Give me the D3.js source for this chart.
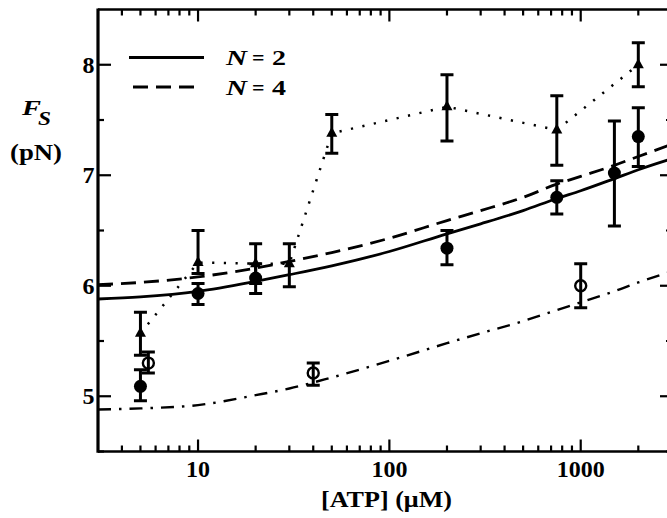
<!DOCTYPE html>
<html>
<head>
<meta charset="utf-8">
<script src="https://cdn.jsdelivr.net/npm/d3@7"></script>
<style>
  html, body { margin: 0; padding: 0; background: #fff; }
  svg { display: block; }
  text { font-family: "Liberation Serif", "Times New Roman", serif; fill: #000; }
</style>
</head>
<body>
<svg id="chart" width="667" height="518"></svg>
<script>
// Stall force versus ATP concentration
const xTickValues = [10, 100, 1000];
const yTickValues = [5, 6, 7, 8];
const yMinorTickValues = [4.5, 5.5, 6.5, 7.5];

// filled circles
const atpFilled = [5, 10, 20, 200, 750, 1500, 2000];
const fsFilled = [5.09, 5.93, 6.07, 6.34, 6.80, 7.02, 7.35];
const fsFilledLow = [4.96, 5.83, 5.93, 6.19, 6.65, 6.54, 7.08];
const fsFilledHigh = [5.24, 6.02, 6.20, 6.50, 6.95, 7.49, 7.61];

// filled triangles (joined by a dotted line)
const atpTri = [5, 10, 20, 30, 50, 200, 750, 2000];
const fsTri = [5.57, 6.21, 6.20, 6.20, 7.38, 7.62, 7.41, 8.00];
const fsTriLow = [5.37, 6.11, 6.02, 5.99, 7.20, 7.31, 7.09, 7.80];
const fsTriHigh = [5.76, 6.50, 6.38, 6.38, 7.55, 7.91, 7.72, 8.20];

// open circles
const atpOpen = [5.5, 40, 1000];
const fsOpen = [5.30, 5.21, 6.00];
const fsOpenLow = [5.21, 5.10, 5.80];
const fsOpenHigh = [5.40, 5.30, 6.20];

// model curves
const curveAtp = [3, 5, 10, 20, 30, 50, 100, 200, 300, 500, 750, 1000, 1500, 2000, 3000];
const fitN2 = [5.88, 5.90, 5.95, 6.04, 6.10, 6.18, 6.31, 6.47, 6.56, 6.68, 6.79, 6.86, 6.97, 7.05, 7.15];
const fitN4 = [6.01, 6.03, 6.08, 6.16, 6.22, 6.30, 6.43, 6.59, 6.68, 6.80, 6.92, 6.99, 7.09, 7.17, 7.28];
const fitOpen = [4.88, 4.89, 4.92, 5.01, 5.07, 5.17, 5.32, 5.48, 5.57, 5.68, 5.78, 5.85, 5.95, 6.03, 6.13];

const legendLabels = ["2", "4"];

const svg = d3.select("#chart");
const plotLeft = 98, plotRight = 672, plotTop = 9.5, plotBottom = 451.5;

const x = d3.scaleLog().domain([3, 3000]).range([plotLeft, plotRight]);
const y = d3.scaleLinear().domain([4.5, 8.5]).range([plotBottom, plotTop]);

const defs = svg.append("defs");
defs.append("clipPath").attr("id", "plotClip")
  .append("rect").attr("x", plotLeft).attr("y", plotTop)
  .attr("width", plotRight - plotLeft).attr("height", plotBottom - plotTop);

const plot = svg.append("g").attr("clip-path", "url(#plotClip)");

// curves
const lineGen = d3.line().x(d => x(d[0])).y(d => y(d[1])).curve(d3.curveMonotoneX);
function drawCurve(vals, dash, width) {
  plot.append("path")
    .datum(curveAtp.map((a, i) => [a, vals[i]]))
    .attr("d", lineGen)
    .attr("fill", "none")
    .attr("stroke", "#000")
    .attr("stroke-width", width)
    .attr("stroke-dasharray", dash);
}
drawCurve(fitN2, null, 2.8);
drawCurve(fitN4, "15 8", 2.8);
drawCurve(fitOpen, "13 8 2.5 8", 2.4);

// dotted connection of triangles
plot.append("path")
  .datum(atpTri.map((a, i) => [a, fsTri[i]]))
  .attr("d", d3.line().x(d => x(d[0])).y(d => y(d[1])))
  .attr("fill", "none")
  .attr("stroke", "#000")
  .attr("stroke-width", 2.5)
  .attr("stroke-dasharray", "2.2 9.5");

// error bars
function drawErrors(xs, lo, hi) {
  const g = plot.append("g").attr("stroke", "#000").attr("stroke-width", 3);
  xs.forEach((a, i) => {
    const px = x(a);
    g.append("line").attr("x1", px).attr("x2", px).attr("y1", y(lo[i])).attr("y2", y(hi[i]));
    [lo[i], hi[i]].forEach(v => {
      g.append("line").attr("x1", px - 6.5).attr("x2", px + 6.5).attr("y1", y(v)).attr("y2", y(v));
    });
  });
}
drawErrors(atpTri, fsTriLow, fsTriHigh);
drawErrors(atpFilled, fsFilledLow, fsFilledHigh);
drawErrors(atpOpen, fsOpenLow, fsOpenHigh);

// markers
plot.append("g").selectAll("path")
  .data(atpTri.map((a, i) => [a, fsTri[i]]))
  .join("path")
  .attr("transform", d => `translate(${x(d[0])},${y(d[1])})`)
  .attr("d", "M0,-6.5 L5.5,3.5 L-5.5,3.5 Z")
  .attr("fill", "#000");

plot.append("g").selectAll("circle")
  .data(atpFilled.map((a, i) => [a, fsFilled[i]]))
  .join("circle")
  .attr("cx", d => x(d[0])).attr("cy", d => y(d[1]))
  .attr("r", 6.5).attr("fill", "#000");

plot.append("g").selectAll("circle")
  .data(atpOpen.map((a, i) => [a, fsOpen[i]]))
  .join("circle")
  .attr("cx", d => x(d[0])).attr("cy", d => y(d[1]))
  .attr("r", 5.5).attr("fill", "none").attr("stroke", "#000").attr("stroke-width", 2.4);

// frame
const frame = svg.append("g").attr("stroke", "#000").attr("fill", "none");
frame.append("line").attr("x1", plotLeft).attr("x2", plotLeft).attr("y1", plotTop - 1).attr("y2", plotBottom + 1.3).attr("stroke-width", 3.2);
frame.append("line").attr("x1", plotLeft).attr("x2", plotRight).attr("y1", plotTop).attr("y2", plotTop).attr("stroke-width", 2.6);
frame.append("line").attr("x1", plotLeft).attr("x2", plotRight).attr("y1", plotBottom).attr("y2", plotBottom).attr("stroke-width", 2.6);
frame.append("line").attr("x1", plotRight).attr("x2", plotRight).attr("y1", plotTop).attr("y2", plotBottom).attr("stroke-width", 2.6);

// ticks: all point inward
const minorX = [];
[1, 10, 100, 1000].forEach(dec => {
  for (let k = 2; k <= 9; k++) {
    const v = dec * k;
    if (v > 3 && v < 3000 && !xTickValues.includes(v)) minorX.push(v);
  }
});
const tg = svg.append("g").attr("stroke", "#000").attr("stroke-width", 2.2);
xTickValues.forEach(v => {
  tg.append("line").attr("x1", x(v)).attr("x2", x(v)).attr("y1", plotBottom).attr("y2", plotBottom - 12);
  tg.append("line").attr("x1", x(v)).attr("x2", x(v)).attr("y1", plotTop).attr("y2", plotTop + 12);
});
minorX.forEach(v => {
  tg.append("line").attr("x1", x(v)).attr("x2", x(v)).attr("y1", plotBottom).attr("y2", plotBottom - 6);
  tg.append("line").attr("x1", x(v)).attr("x2", x(v)).attr("y1", plotTop).attr("y2", plotTop + 6);
});
yTickValues.forEach(v => {
  tg.append("line").attr("x1", plotLeft).attr("x2", plotLeft + 13).attr("y1", y(v)).attr("y2", y(v));
  tg.append("line").attr("x1", plotRight).attr("x2", plotRight - 12).attr("y1", y(v)).attr("y2", y(v));
});
yMinorTickValues.forEach(v => {
  tg.append("line").attr("x1", plotLeft).attr("x2", plotLeft + 6).attr("y1", y(v)).attr("y2", y(v));
  tg.append("line").attr("x1", plotRight).attr("x2", plotRight - 6).attr("y1", y(v)).attr("y2", y(v));
});

// tick labels
svg.append("g").selectAll("text")
  .data(xTickValues).join("text")
  .attr("x", d => x(d)).attr("y", 477)
  .attr("text-anchor", "middle")
  .attr("font-size", 24).attr("font-weight", "bold")
  .text(d => d);
svg.append("g").selectAll("text")
  .data(yTickValues).join("text")
  .attr("x", 94.5).attr("y", d => y(d) + 8)
  .attr("text-anchor", "end")
  .attr("font-size", 24).attr("font-weight", "bold")
  .text(d => d);

// axis titles
svg.append("text")
  .attr("x", 321).attr("y", 507)
  .attr("font-size", 24).attr("font-weight", "bold")
  .attr("textLength", 131).attr("lengthAdjust", "spacingAndGlyphs")
  .text("[ATP] (\u03bcM)");

svg.append("text").attr("x", 22).attr("y", 115).attr("font-size", 21)
  .attr("font-weight", "bold").attr("font-style", "italic")
  .attr("textLength", 19).attr("lengthAdjust", "spacingAndGlyphs")
  .text("F");
svg.append("text").attr("x", 38).attr("y", 125).attr("font-size", 18)
  .attr("font-weight", "bold").attr("font-style", "italic")
  .attr("textLength", 13).attr("lengthAdjust", "spacingAndGlyphs")
  .text("S");
svg.append("text").attr("x", 10).attr("y", 160).attr("font-size", 24)
  .attr("font-weight", "bold")
  .attr("textLength", 52).attr("lengthAdjust", "spacingAndGlyphs")
  .text("(pN)");

// legend
const lg = svg.append("g");
lg.append("line").attr("x1", 129).attr("x2", 204).attr("y1", 57.5).attr("y2", 57.5)
  .attr("stroke", "#000").attr("stroke-width", 3);
lg.append("line").attr("x1", 133).attr("x2", 194).attr("y1", 87).attr("y2", 87)
  .attr("stroke", "#000").attr("stroke-width", 3).attr("stroke-dasharray", "15 8");
legendLabels.forEach((n, i) => {
  const by = 65 + i * 30;
  lg.append("text").attr("x", 226).attr("y", by).attr("font-size", 22)
    .attr("font-weight", "bold").attr("font-style", "italic")
    .attr("textLength", 21).attr("lengthAdjust", "spacingAndGlyphs").text("N");
  lg.append("text").attr("x", 252).attr("y", by).attr("font-size", 22)
    .attr("font-weight", "bold").text("=");
  lg.append("text").attr("x", 272).attr("y", by).attr("font-size", 22)
    .attr("font-weight", "bold")
    .attr("textLength", 14).attr("lengthAdjust", "spacingAndGlyphs").text(n);
});
</script>
</body>
</html>
